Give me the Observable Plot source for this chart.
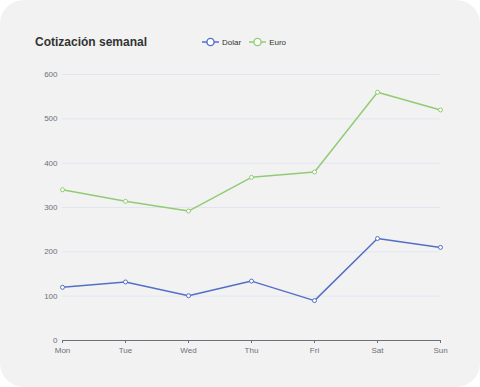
<!DOCTYPE html>
<html>
<head>
<meta charset="utf-8">
<script src="https://cdn.jsdelivr.net/npm/d3@7"></script>
<script src="https://cdn.jsdelivr.net/npm/@observablehq/plot@0.6"></script>
<style>
  html, body { margin: 0; padding: 0; background: #ffffff; }
  #card {
    position: relative; width: 480px; height: 387px; background: #f2f2f2;
    border-radius: 24px; overflow: hidden;
    font-family: "Liberation Sans", Arial, Helvetica, sans-serif;
  }
  #title {
    position: absolute; left: 35px; top: 34px; font-size: 12px; font-weight: bold; color: #333;
    line-height: 16px; white-space: nowrap;
  }
  #legend {
    position: absolute; left: 202px; top: 35px; height: 14px; display: flex; align-items: center;
    font-size: 8px; color: #333; white-space: nowrap;
  }
  .item { display: flex; align-items: center; margin-right: 8px; }
  .item svg { margin-right: 3px; }
  #chart { position: absolute; left: 0; top: 60px; }
</style>
</head>
<body>
<div id="card">
  <div id="title"></div>
  <div id="legend"></div>
  <div id="chart"></div>
</div>
<script>
const titleText = "Cotización semanal";
const days = ["Mon", "Tue", "Wed", "Thu", "Fri", "Sat", "Sun"];
const seriesNames = ["Dolar", "Euro"];
const seriesColors = ["#5470c6", "#91cc75"];
const dolar = [120, 132, 101, 134, 90, 230, 210];
const euro = [220, 182, 191, 234, 290, 330, 310];
const yTicks = [0, 100, 200, 300, 400, 500, 600];

const values = [dolar, euro];
const data = seriesNames.flatMap((s, si) => days.map((d, i) => ({day: d, series: s, value: values[si][i]})));

document.getElementById("title").textContent = titleText;
const legend = document.getElementById("legend");
seriesNames.forEach((s, i) => {
  const it = document.createElement("div");
  it.className = "item";
  it.innerHTML = `<svg width="17" height="10" viewBox="0 0 17 10"><line x1="0" x2="17" y1="5" y2="5" stroke="${seriesColors[i]}" stroke-width="1.4"/><circle cx="8.5" cy="5" r="3.6" fill="#fff" stroke="${seriesColors[i]}" stroke-width="1.4"/></svg><span>${s}</span>`;
  legend.appendChild(it);
});

const stacked = {x: "day", y: "value", z: "series", stroke: "series"};
const chart = Plot.plot({
  width: 480,
  height: 300,
  marginLeft: 62,
  marginRight: 40,
  marginTop: 14,
  marginBottom: 20,
  style: {background: "transparent", fontFamily: "'Liberation Sans', Arial, sans-serif", fontSize: "8px", color: "#6e7079", overflow: "visible"},
  x: {type: "point", domain: days, padding: 0},
  y: {domain: [0, 600]},
  color: {domain: seriesNames, range: seriesColors},
  marks: [
    Plot.ruleY(yTicks.filter(t => t > 0), {stroke: "#e0e6f1", strokeWidth: 1}),
    Plot.axisY({ticks: yTicks, tickSize: 0, tickPadding: 5, label: null}),
    Plot.axisX({tickSize: 3, tickPadding: 4, label: null, stroke: "#6e7079"}),
    Plot.ruleY([0], {stroke: "#6e7079", strokeWidth: 1}),
    Plot.line(data, Plot.stackY2({...stacked, strokeWidth: 1.5})),
    Plot.dot(data, Plot.stackY2({...stacked, r: 2, fill: "#ffffff", strokeWidth: 1}))
  ]
});
document.getElementById("chart").appendChild(chart);
</script>
</body>
</html>
